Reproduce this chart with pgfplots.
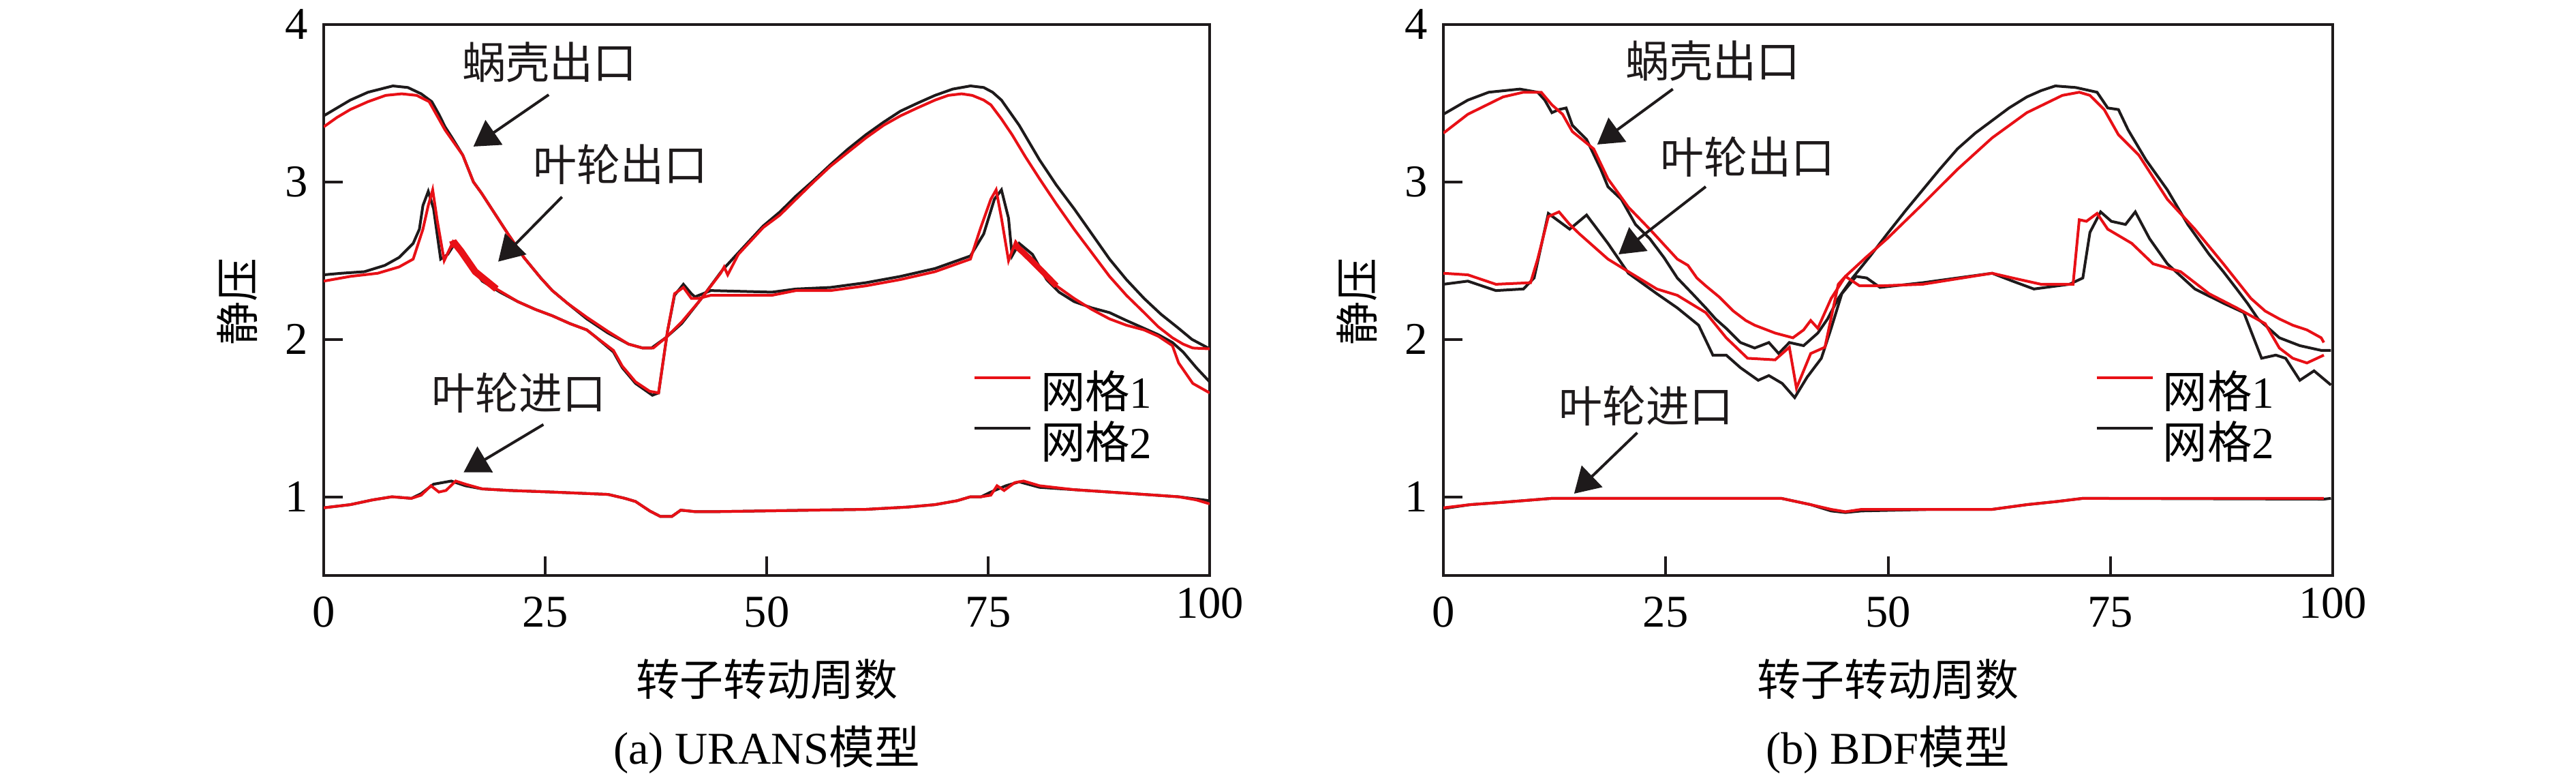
\documentclass[border=0pt]{standalone}
\usepackage{fontspec}
\setmainfont{Liberation Serif}
\newfontfamily\cjk{Noto Sans CJK SC}
\usepackage{pgfplots}
\pgfplotsset{compat=1.18}
\usetikzlibrary{arrows.meta}
\definecolor{cred}{RGB}{232,16,22}
\definecolor{cblk}{RGB}{30,26,27}

\pgfplotsset{
  myaxis/.style={
    scale only axis, width=195pt, height=121.2pt,
    xmin=0, xmax=100, ymin=0.5, ymax=4,
    xtick={0,25,50,75}, extra x ticks={100},
    extra x tick style={xticklabel style={yshift=2pt}},
    ytick={1,2,3,4},
    tick align=inside, major tick length=4.2pt, tick pos=left,
    axis line style={cblk, line width=0.6pt},
    every tick/.style={cblk, line width=0.6pt},
    tick label style={font=\fontsize{10}{12}\selectfont},
    /pgf/number format/assume math mode=true,
    xticklabel style={yshift=-1.2pt},
    legend style={at={(axis description cs:0.732,0.2857)}, anchor=west,
      draw=none, fill=none, inner sep=0pt, row sep=1.3pt,
      font=\fontsize{9.8}{11}\selectfont,
      nodes={inner sep=0pt},
      /tikz/every odd column/.append style={column sep=2pt}},
    legend cell align=left,
    legend image code/.code={\draw[#1] (0pt,0.33em) -- (12.3pt,0.33em);},
  },
  rl/.style={cred, line width=0.6pt, forget plot},
  bl/.style={cblk, line width=0.6pt, forget plot},
}
\tikzset{
  ann/.style={font=\cjk\fontsize{9.6}{11}\selectfont, text=cblk},
  arr/.style={cblk, line width=0.6pt, -{Triangle[length=5.5pt,width=6.5pt]}},
}

\begin{document}
\begin{tikzpicture}
\useasboundingbox (0,0) rectangle (567pt,171.15pt);

% ================= panel (a) =================
\begin{axis}[myaxis, at={(71.25pt,44.55pt)}, anchor=south west]
\addlegendimage{cred, line width=0.6pt}
\addlegendentry{{\cjk 网格}1}
\addlegendimage{cblk, line width=0.6pt}
\addlegendentry{{\cjk 网格}2}

% volute outlet, grid 2
\addplot[bl] coordinates {
(0,3.42)(1.5,3.47)(3,3.52)(5,3.57)(7.8,3.61)(9.5,3.60)(11,3.56)(12.2,3.51)
(13,3.43)(13.7,3.35)(14.5,3.28)(15.7,3.17)(16.9,3.00)(17.8,2.93)(19.3,2.80)
(20.8,2.67)(22.6,2.52)(24.5,2.39)(25.8,2.31)(27.5,2.23)(29.7,2.13)(32.1,2.04)
(34.4,1.97)(36,1.945)(37,1.945)(38.6,2.01)(40.4,2.10)(42.5,2.25)(45,2.44)
(46.8,2.55)(49.6,2.72)(51.5,2.81)(53.3,2.91)(55.3,3.01)(57.2,3.11)
(59.2,3.21)(61.2,3.30)(63.2,3.38)(65.1,3.45)(67,3.50)(69,3.55)(71,3.59)
(73,3.61)(74.5,3.60)(75.5,3.57)(76.5,3.52)(78,3.40)(78.5,3.36)(80.8,3.14)
(82.7,2.98)(84.7,2.83)(86.7,2.67)(88.7,2.51)(90.6,2.38)(92.6,2.26)(94.5,2.16)
(96.5,2.07)(98,2.00)(100,1.94)};
% impeller outlet, grid 2
\addplot[bl] coordinates {
(0,2.41)(2,2.42)(4.6,2.43)(6.9,2.47)(8.5,2.52)(10.1,2.61)(10.8,2.70)(11.2,2.85)
(11.8,2.94)(12.4,2.83)(13.2,2.51)(14,2.54)(14.8,2.61)(15.5,2.57)(16.4,2.48)
(17.9,2.37)(19.9,2.30)(21.9,2.24)(23.9,2.19)(25.8,2.15)(27.8,2.10)(29.7,2.06)
(30.6,2.02)(32.7,1.92)(33.7,1.82)(35.2,1.72)(37.1,1.645)(37.8,1.66)
(38.8,2.05)(39.6,2.28)(40.6,2.35)(41.5,2.29)(41.9,2.27)(43.7,2.31)
(50.6,2.30)(53.3,2.32)(57.2,2.33)(61.2,2.36)(65.1,2.40)(69,2.45)(73,2.53)
(74.5,2.67)(75.7,2.89)(76.5,2.95)(77.3,2.77)(77.7,2.53)(78.5,2.61)(80,2.54)
(81.6,2.38)(83,2.30)(84.7,2.24)(86.7,2.20)(88.7,2.17)(90.6,2.12)(92.6,2.07)
(94.2,2.03)(95.8,1.98)(97,1.92)(98.5,1.82)(100,1.73)};
% impeller inlet, grid 2
\addplot[bl] coordinates {
(0,0.93)(3,0.95)(5.5,0.98)(7.7,1.00)(9.9,0.99)(11,1.02)(12.4,1.08)(14.4,1.10)
(16,1.07)(17.9,1.05)(21,1.04)(25.8,1.03)(32.1,1.015)(34,0.99)(35.2,0.97)
(36.8,0.91)(38,0.875)(39.3,0.875)(40.3,0.915)(41.2,0.91)(42,0.905)(43.5,0.905)
(49.4,0.91)(55,0.915)(61.2,0.92)(66,0.935)(69,0.95)(71.5,0.975)(73,1.00)
(74.2,1.00)(75.3,1.03)(77,1.07)(78.5,1.095)(80.8,1.06)(84.7,1.045)(88.7,1.03)
(92.6,1.015)(96.5,1.00)(100,0.975)};

% volute outlet, grid 1
\addplot[rl] coordinates {
(0,3.35)(1.5,3.41)(3,3.46)(5,3.51)(7,3.55)(8.8,3.56)(10.5,3.55)(11.9,3.51)
(12.8,3.42)(13.7,3.33)(15.7,3.17)(16.9,3.00)(17.8,2.93)(19.3,2.80)(20.8,2.67)
(22.6,2.52)(24.5,2.39)(25.8,2.31)(27.5,2.23)(29.7,2.14)(32.1,2.05)(34.4,1.97)
(36,1.945)(37.2,1.945)(38.6,2.01)(40.4,2.11)(42.5,2.25)(44.8,2.42)(45.2,2.46)
(45.6,2.41)(46.8,2.54)(49.6,2.71)(51.5,2.79)(53.3,2.89)(55.3,3.00)
(57.2,3.10)(59.2,3.19)(61.2,3.28)(63.2,3.36)(65.1,3.42)(67,3.47)(69,3.52)
(70.5,3.55)(72,3.56)(73.2,3.55)(74.5,3.52)(75.3,3.49)(76.5,3.40)(77.7,3.30)
(79.2,3.16)(80.8,3.02)(82.7,2.86)(84.7,2.70)(86.7,2.55)(88.7,2.40)(90.6,2.28)
(92.6,2.17)(94.2,2.08)(95.8,2.01)(97,1.97)(98.1,1.945)(100,1.94)};
% impeller outlet, grid 1
\addplot[rl] coordinates {
(0,2.37)(3,2.40)(6.1,2.42)(8.5,2.46)(10.1,2.51)(11.2,2.70)(11.8,2.85)(12.3,2.95)
(12.8,2.76)(13.6,2.50)(14.6,2.62)(15.5,2.56)(17.1,2.43)(19.5,2.32)(21.9,2.24)
(23.9,2.19)(25.8,2.15)(27.8,2.10)(29.7,2.06)(30.6,2.02)(32.7,1.93)(33.7,1.83)
(35.2,1.73)(36.8,1.67)(37.8,1.66)(38.8,2.05)(39.6,2.29)(40.6,2.33)
(41.5,2.26)(42.3,2.26)(43.7,2.28)(50.6,2.28)(53.3,2.31)(57.2,2.31)(61.2,2.34)(65.1,2.38)
(69,2.43)(73,2.51)(74.1,2.70)(75.3,2.89)(75.9,2.95)(76.5,2.77)(77.3,2.50)
(78.1,2.62)(79,2.55)(80.8,2.45)(82.7,2.34)(84.7,2.26)(86.7,2.19)(88.7,2.13)
(90.6,2.09)(92.6,2.06)(94.2,2.02)(95.8,1.96)(96.5,1.85)(98.1,1.72)(100,1.66)};
% noisy (thick) parts of impeller outlet, grid 1
\addplot[cred, line width=1.5pt, forget plot] coordinates {
(14.3,2.60)(14.8,2.61)(15.5,2.56)(17.1,2.43)(19.5,2.32)};
\addplot[cred, line width=1.3pt, forget plot] coordinates {
(78.0,2.60)(79,2.55)(80.8,2.45)(82.7,2.34)};
% impeller inlet, grid 1
\addplot[rl] coordinates {
(0,0.93)(3,0.95)(5.5,0.98)(7.7,1.00)(9.9,0.99)(11,1.01)(12.1,1.07)(13,1.03)
(13.8,1.04)(14.9,1.10)(16,1.08)(17.9,1.05)(21,1.04)(25.8,1.03)(32.1,1.015)
(34,0.99)(35.2,0.97)(36.8,0.91)(38,0.875)(39.3,0.875)(40.3,0.915)(41.2,0.91)
(42,0.905)(43.5,0.905)(49.4,0.91)(55,0.915)(61.2,0.92)(66,0.935)(69,0.95)
(71.5,0.975)(73,1.00)(74.2,1.00)(75.3,1.01)(76,1.07)(76.8,1.04)(78,1.09)
(79,1.10)(80.8,1.07)(84.7,1.045)(88.7,1.03)(92.6,1.015)(96.5,1.00)(98.5,0.98)(100,0.955)};

\node[ann] at (axis cs:25.5,3.76) {蜗壳出口};
\draw[arr] (axis cs:25.4,3.554) -- (axis cs:16.9,3.225);
\node[ann] at (axis cs:33.5,3.11) {叶轮出口};
\draw[arr] (axis cs:26.9,2.905) -- (axis cs:19.7,2.494);
\node[ann] at (axis cs:22.0,1.662) {叶轮进口};
\draw[arr] (axis cs:24.8,1.459) -- (axis cs:15.8,1.156);
\end{axis}

% ================= panel (b) =================
\begin{axis}[myaxis, at={(317.7pt,44.55pt)}, anchor=south west, width=195.75pt]
\addlegendimage{cred, line width=0.6pt}
\addlegendentry{{\cjk 网格}1}
\addlegendimage{cblk, line width=0.6pt}
\addlegendentry{{\cjk 网格}2}

% volute outlet, grid 2
\addplot[bl] coordinates {
(0,3.43)(2.75,3.52)(5.1,3.57)(8.6,3.59)(10.6,3.57)(11.4,3.52)(12.2,3.44)(13,3.46)
(13.8,3.47)(14.5,3.36)(16.1,3.27)(17.7,3.08)(18.5,2.97)(20,2.89)(21.6,2.73)
(23.2,2.64)(24.8,2.52)(26.3,2.39)(28,2.29)(29.5,2.20)(30.6,2.13)(31.8,2.07)
(33.4,1.98)(35,1.945)(36.6,1.98)(37.7,1.91)(38.9,1.98)(40.5,1.96)(42.1,2.04)
(43.2,2.13)(44.4,2.26)(46,2.39)(48,2.53)(49.9,2.67)(52,2.82)(53.9,2.95)
(55.8,3.08)(57.8,3.21)(59.8,3.31)(61.7,3.39)(63.6,3.47)(65.6,3.54)(67.2,3.58)
(68.8,3.61)(71.1,3.60)(73.5,3.57)(74.7,3.47)(75.9,3.46)(77,3.33)(79,3.14)
(81.4,2.95)(83.7,2.73)(86.1,2.54)(87.7,2.43)(89.2,2.32)(90.4,2.23)(91.6,2.13)
(93,2.06)(94,2.01)(96.3,1.96)(98.7,1.93)(99.8,1.93)};
% impeller outlet, grid 2
\addplot[bl] coordinates {
(0,2.35)(2.75,2.37)(5.9,2.31)(9,2.32)(10.2,2.39)(11.8,2.80)(13,2.75)(14.2,2.70)
(16.1,2.79)(18.5,2.61)(20.8,2.42)(24,2.29)(26.3,2.20)(28.7,2.09)(30.3,1.90)
(31.8,1.90)(33.4,1.82)(35.4,1.74)(36.6,1.77)(38.1,1.72)(39.5,1.63)(40.9,1.76)
(42.5,1.88)(43.6,2.07)(44.8,2.29)(46.4,2.40)(47.6,2.39)(49.1,2.33)(53.9,2.36)
(61.7,2.42)(64,2.37)(66.4,2.32)(70.4,2.35)(71.9,2.39)(72.7,2.68)(73.9,2.81)
(75.1,2.75)(76.7,2.73)(77.8,2.81)(79.4,2.64)(81.4,2.48)(84.5,2.32)(87.7,2.23)
(90,2.17)(92,1.88)(93.6,1.90)(94.7,1.88)(96.3,1.74)(97.9,1.80)(99.8,1.71)};
% impeller inlet, grid 2
\addplot[bl] coordinates {
(0,0.925)(3,0.95)(6.7,0.965)(12.2,0.99)(38,0.99)(41.3,0.95)(43.6,0.91)(45.2,0.90)
(47,0.91)(55,0.92)(61.7,0.92)(65.6,0.95)(69,0.97)(71.9,0.99)(99,0.985)(99.8,0.99)};

% volute outlet, grid 1
\addplot[rl] coordinates {
(0,3.31)(2.75,3.43)(6.7,3.54)(9,3.57)(11,3.57)(12.2,3.49)(13.4,3.43)(14.5,3.32)
(16.9,3.21)(18.5,3.02)(20.8,2.84)(23.2,2.70)(26.3,2.51)(27.5,2.47)(28.5,2.39)
(29.5,2.34)(31,2.27)(32.6,2.18)(34,2.12)(35,2.09)(37.3,2.04)(39.3,2.01)
(40.5,2.06)(41.3,2.12)(42.1,2.07)(43.6,2.26)(45.2,2.40)(47.5,2.52)(49.9,2.64)
(53.9,2.86)(57.8,3.08)(61.7,3.28)(65.6,3.44)(69.6,3.55)(71.5,3.57)(72.7,3.55)
(74.3,3.46)(75.9,3.30)(78.2,3.17)(79.8,3.03)(81.4,2.89)(84.5,2.70)(87.7,2.48)
(90.8,2.26)(92.4,2.18)(94,2.13)(95.5,2.09)(97.1,2.06)(98.7,2.01)(99,1.98)};
% impeller outlet, grid 1
\addplot[rl] coordinates {
(0,2.42)(2.75,2.41)(5.9,2.35)(9.8,2.36)(10.6,2.51)(11.8,2.78)(13,2.81)(14.2,2.73)
(15.3,2.67)(18.5,2.51)(20.8,2.43)(24,2.32)(26.3,2.28)(29.5,2.17)(31.8,2.01)
(34.2,1.88)(37.3,1.87)(38.9,1.95)(39.7,1.69)(41.3,1.91)(42.9,1.95)(44.4,2.35)
(45.2,2.40)(46.8,2.34)(49.1,2.34)(53.9,2.35)(61.7,2.42)(64,2.39)(67.2,2.35)
(70.8,2.35)(71.5,2.76)(72.3,2.75)(73.5,2.80)(74.7,2.70)(77.4,2.61)(79.8,2.48)
(82.9,2.43)(86.1,2.29)(89.2,2.20)(92.4,2.10)(94,1.945)(95.5,1.88)(97.1,1.85)(99,1.90)};
% impeller inlet, grid 1
\addplot[rl] coordinates {
(0,0.93)(3,0.95)(6.7,0.965)(12.2,0.99)(38,0.99)(41.3,0.95)(43.6,0.92)(45.2,0.905)
(47,0.92)(55,0.92)(61.7,0.92)(65.6,0.95)(69,0.97)(71.9,0.99)(99,0.99)};

\node[ann] at (axis cs:30.3,3.77) {蜗壳出口};
\draw[arr] (axis cs:25.8,3.59) -- (axis cs:17.3,3.238);
\node[ann] at (axis cs:34.2,3.16) {叶轮出口};
\draw[arr] (axis cs:29.5,2.97) -- (axis cs:19.7,2.54);
\node[ann] at (axis cs:22.8,1.58) {叶轮进口};
\draw[arr] (axis cs:21.8,1.407) -- (axis cs:14.7,1.02);
\end{axis}

% labels and captions
\node[rotate=90, font=\cjk\fontsize{9.6}{11}\selectfont] at (52.2pt,104.7pt) {静压};
\node[rotate=90, font=\cjk\fontsize{9.6}{11}\selectfont] at (298.65pt,104.7pt) {静压};
\node[anchor=base, font=\cjk\fontsize{9.6}{11}\selectfont] at (168.75pt,18pt) {转子转动周数};
\node[anchor=base, font=\cjk\fontsize{9.6}{11}\selectfont] at (415.5pt,18pt) {转子转动周数};
\node[anchor=base, font=\fontsize{10}{12}\selectfont] at (168.75pt,3pt) {(a) URANS{\cjk 模型}};
\node[anchor=base, font=\fontsize{10}{12}\selectfont] at (415.5pt,3pt) {(b) BDF{\cjk 模型}};
\end{tikzpicture}
\end{document}
